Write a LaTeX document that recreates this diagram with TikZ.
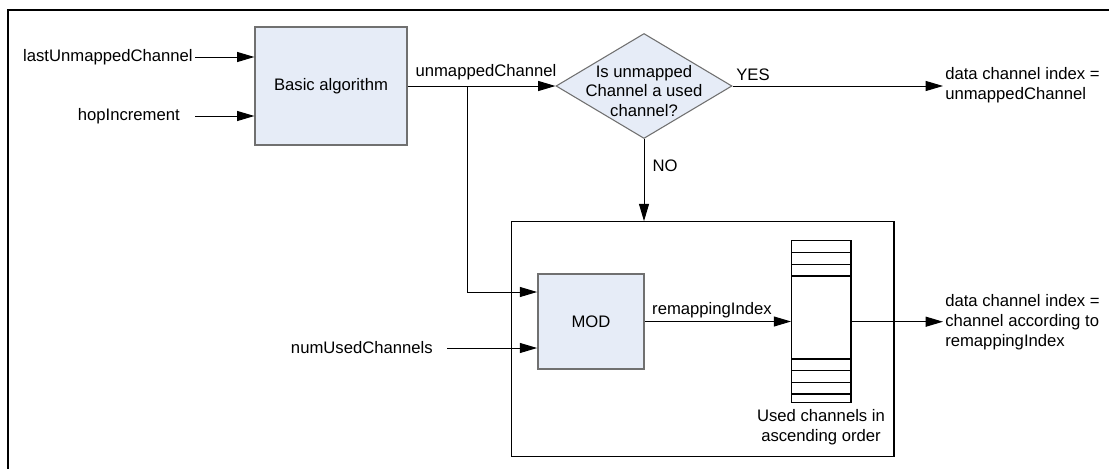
\documentclass[tikz,border=0pt]{standalone}
\usepackage{fontspec}
\setmainfont{Liberation Sans}
\usetikzlibrary{arrows.meta,shapes.geometric}
\definecolor{boxfill}{HTML}{E6ECF7}
\definecolor{boxline}{HTML}{707070}
\begin{document}
\begin{tikzpicture}[x=0.75pt,y=-0.75pt,
  every node/.style={font=\fontsize{12.5}{14.8}\selectfont},
  lbl/.style={inner sep=1.5pt},
  block/.style={draw=boxline, fill=boxfill, line width=1.1pt, inner sep=0pt},
  arr/.style={-{Triangle[length=13pt,width=7.5pt]}, line width=0.75pt},
  conn/.style={line width=0.75pt}]
\useasboundingbox (0,0) rectangle (1109,468);
\fill[white] (0,0) rectangle (1109,468);
\draw[line width=1.6pt] (8,470) -- (8,10) -- (1111,10);

% blocks
\node[block, minimum width=113.8pt, minimum height=88.5pt] (basic) at (331,86) {Basic algorithm};
\node[block, diamond, line width=0.8pt, minimum width=132pt, minimum height=78.75pt] (dia) at (644,86) {};
\node[lbl, align=center] (qtxt) at (644,91) {Is unmapped\\Channel a used\\channel?};
\node[draw, line width=0.8pt, minimum width=286.7pt, minimum height=176.25pt, inner sep=0pt] (grp) at (702.85,339.2) {};
\node[block, minimum width=79.7pt, minimum height=71.25pt] (mod) at (591,321.5) {MOD};
\node[draw, fill=white, line width=0.8pt, minimum width=44.5pt, minimum height=121.5pt, inner sep=0pt] (stack) at (821.3,321.7) {};
\foreach \yy in {252.7,264.3,276,359,370.7,382.7,394}
  \draw[line width=0.8pt] (791.7,\yy) -- (851,\yy);

% labels
\node[lbl, anchor=east] (lum) at (195,57) {lastUnmappedChannel};
\node[lbl, anchor=east] (hop) at (182,116) {hopIncrement};
\node[lbl, anchor=east] (nuc) at (435,348) {numUsedChannels};
\node[lbl] (umc) at (486,72) {unmappedChannel};
\node[lbl] (yes) at (753,75) {YES};
\node[lbl] (no) at (665,166) {NO};
\node[lbl] (rmi) at (712,310) {remappingIndex};
\node[lbl, align=left, anchor=west] (out1) at (943,85) {data channel index =\\unmappedChannel};
\node[lbl, align=left, anchor=west] (out2) at (943,322) {data channel index =\\channel according to\\remappingIndex};
\node[lbl, align=center] (usedtxt) at (821,427) {Used channels in\\ascending order};

% connectors
\coordinate (br) at (467.7,86);
\coordinate (y292) at (0,292);
\draw[arr] (lum.east) -- (lum.east -| basic.west);
\draw[arr] ([xshift=10pt]hop.east) -- (hop.east -| basic.west);
\draw[arr] ([xshift=9pt]nuc.east) -- (nuc.east -| mod.west);
\draw[arr] (basic.east) -- (dia.west);
\draw[arr] (br) |- (y292 -| mod.west);
\draw[arr] (dia.south) -- (dia.south |- grp.north);
\draw[arr] (dia.east) -- (dia.east -| out1.west);
\draw[arr] (mod.east) -- (mod.east -| stack.west);
\draw[arr] (stack.east) -- (stack.east -| out2.west);
\end{tikzpicture}
\end{document}
